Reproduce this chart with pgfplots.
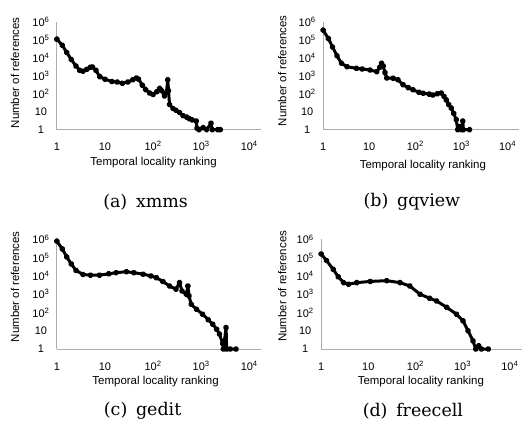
\documentclass[border=0pt]{standalone}
\usepackage{fontspec}
\setmainfont{Liberation Sans}
\newfontfamily\capfont{DejaVu Serif}
\usepackage{pgfplots}
\usepackage{pgfplotstable}
\pgfplotsset{compat=1.18}

% rank / number of references
\pgfplotstableread{
x y
1 1.1e5
1.3 5e4
1.6 2e4
2 8e3
2.5 3.5e3
3 2e3
3.5 1.8e3
4.2 2.3e3
5 3e3
5.5 3.1e3
6.5 2e3
7.8 900
10 650
14 480
18 450
23 380
30 450
38 600
45 750
50 650
60 300
70 170
85 110
100 90
120 130
137 200
150 150
173 75
190 120
202 600
210 150
220 25
260 15
300 12
355 9
420 6
500 5
570 4
650 3.5
790 3
820 1.2
900 1
1100 1.3
1300 1
1600 2.3
1700 1
2200 1
2500 1
}\xmms
\pgfplotstableread{
x y
1 3.5e5
1.3 1.2e5
1.6 4e4
2 1.3e4
2.5 5e3
3.3 3.2e3
5.3 2.6e3
7 2.4e3
10.4 2.1e3
14.5 1.7e3
17 3e3
18.5 5e3
20 3.5e3
22 1.5e3
24 750
33 730
42 600
54 320
70 220
89 165
120 120
148 107
200 95
240 85
300 100
365 110
420 70
470 45
530 25
600 16
680 8
770 3.6
830 1
900 1.5
1000 1
1070 3
1100 1
1500 1
}\gqview
\pgfplotstableread{
x y
1 8e5
1.3 3e5
1.6 1.1e5
2 4.5e4
2.5 2e4
3.5 1.2e4
5 1.1e4
7.7 1.1e4
12 1.3e4
17 1.5e4
28 1.7e4
40 1.5e4
62 1.25e4
90 1e4
117 8e3
160 5e3
220 2.8e3
300 1.9e3
355 4.3e3
400 1.5e3
490 1e3
530 2.8e3
560 800
620 285
800 150
1070 81
1400 40
1750 23
2100 12
2400 6.6
2800 2
2900 1
3300 15
3400 1
4000 1
5300 1
}\gedit
\pgfplotstableread{
x y
1 1.6e5
1.3 7e4
1.8 2.3e4
2.3 9e3
3 4.3e3
3.8 3.5e3
5.7 4.3e3
11 5e3
24.5 5.5e3
47 4.3e3
76 2.8e3
125 1e3
200 600
280 430
460 190
740 81
1020 35
1300 10
1660 2.8
1900 1
2200 1.5
2500 1
3500 1
}\freecell

\pgfplotsset{
  every axis/.append style={
    xmode=log, ymode=log,
    scale only axis,
    anchor=south west,
    xmin=1, xmax=17800,
    ymin=1, ymax=1e6,
    axis lines=left,
    axis line style={-, gray!65, line width=0.8pt},
    xtick={1,10,100,1000,10000},
    xticklabels={1,10,10\textsuperscript{2},10\textsuperscript{3},10\textsuperscript{4}},
    ytick={1,10,100,1000,10000,100000,1000000},
    yticklabels={1,10,10\textsuperscript{2},10\textsuperscript{3},10\textsuperscript{4},10\textsuperscript{5},10\textsuperscript{6}},
    xminorticks=false, yminorticks=false,
    major tick length=0pt,
    tick label style={font=\fontsize{11}{13}\selectfont},
    xticklabel style={anchor=base, yshift=-21pt},
    yticklabel style={anchor=center, xshift=-16pt},
    clip=false,
  },
  every axis plot post/.append style={black, line width=3pt, line join=round,
    line cap=round, mark=*, mark size=1.6pt, mark options={fill=black}},
}

\begin{document}
\begin{tikzpicture}
\path (0,0) rectangle (522pt,429pt);

% (a) xmms
\begin{axis}[at={(57pt,299pt)}, width=205pt, height=108pt]
\addplot table[x=x,y=y] {\xmms};
\end{axis}
% (b) gqview
\begin{axis}[at={(324pt,299pt)}, width=196.5pt, height=108pt]
\addplot table[x=x,y=y] {\gqview};
\end{axis}
% (c) gedit
\begin{axis}[at={(57pt,79pt)}, width=205pt, height=110pt]
\addplot table[x=x,y=y] {\gedit};
\end{axis}
% (d) freecell
\begin{axis}[at={(322pt,79pt)}, width=201pt, height=110pt]
\addplot table[x=x,y=y] {\freecell};
\end{axis}

% axis titles
\begin{scope}[every node/.style={font=\fontsize{11.5}{13}\selectfont}]
\node at (154pt,266pt) {Temporal locality ranking};
\node at (424pt,263pt) {Temporal locality ranking};
\node at (156pt,46pt) {Temporal locality ranking};
\node at (422pt,46pt) {Temporal locality ranking};
\node[rotate=90] at (15pt,356pt) {Number of references};
\node[rotate=90] at (283pt,358pt) {Number of references};
\node[rotate=90] at (15pt,141.5pt) {Number of references};
\node[rotate=90] at (283pt,142pt) {Number of references};
\end{scope}

% sub-captions
\begin{scope}[every node/.style={font=\capfont\fontsize{17.5}{20}\selectfont}]
\node at (146pt,226pt) {(a)\enspace xmms};
\node at (413pt,227pt) {(b)\enspace gqview};
\node at (143pt,17pt) {(c)\enspace gedit};
\node at (414pt,17pt) {(d)\enspace freecell};
\end{scope}
\end{tikzpicture}
\end{document}
